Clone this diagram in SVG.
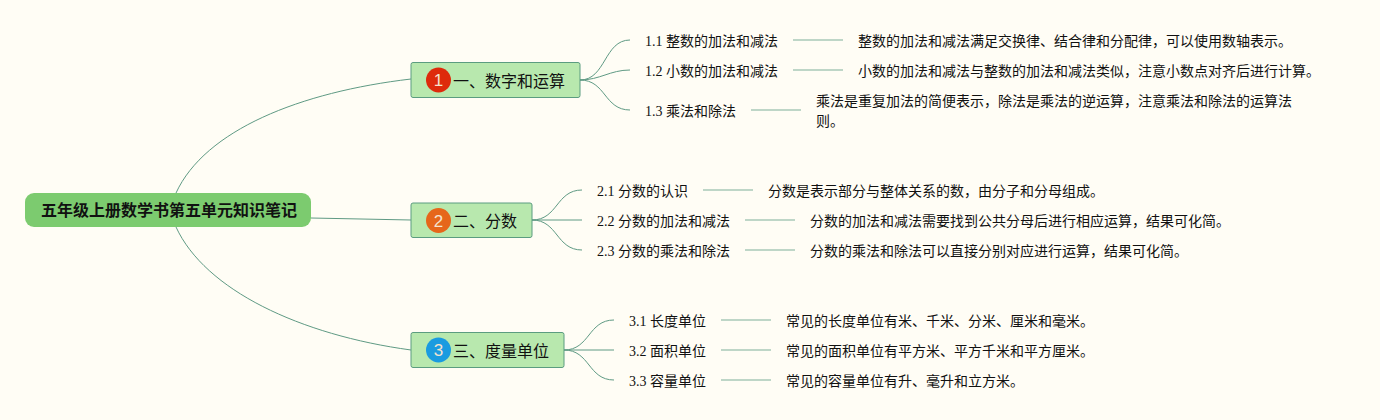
<svg xmlns="http://www.w3.org/2000/svg" width="1380" height="420" viewBox="0 0 1380 420">
<style>
text{font-family:"Liberation Serif","Noto Sans CJK SC",serif;fill:#111;}
.t{font-size:14px}
.b{font-size:16px}
.r{font-size:16px;font-weight:bold}
.n{font-size:17px;fill:#f4e3d0;font-family:"Liberation Sans",sans-serif;text-anchor:middle}
.c path{fill:none;stroke:#5f9a84;stroke-width:1}
.c line{stroke:#a9c9b7;stroke-width:1.500}
.bx{fill:#b8e8ae;stroke:#5b9c80;stroke-width:1}
</style>
<rect width="1380" height="420" fill="#fffdf5"/>
<g id="connectors" class="c">
<path d="M176 193C205 130 300 92 411 79"/>
<path d="M311 218L411 220"/>
<path d="M176 227C205 290 300 335 411 350"/>
<path d="M580 80C606 80 604 40 630 40"/>
<path d="M580 80C600 80 610 70 630 70"/>
<path d="M580 80C606 80 604 110 630 110"/>
<path d="M532 220C558 220 556 190 582 190"/>
<path d="M532 220L582 220"/>
<path d="M532 220C558 220 556 250 582 250"/>
<path d="M564 350C590 350 588 320 614 320"/>
<path d="M564 350L614 350"/>
<path d="M564 350C590 350 588 380 614 380"/>
<line x1="793" y1="40" x2="843" y2="40"/>
<line x1="793" y1="70" x2="843" y2="70"/>
<line x1="751" y1="110" x2="801" y2="110"/>
<line x1="703" y1="190" x2="753" y2="190"/>
<line x1="745" y1="220" x2="795" y2="220"/>
<line x1="745" y1="250" x2="795" y2="250"/>
<line x1="721" y1="320" x2="771" y2="320"/>
<line x1="721" y1="350" x2="771" y2="350"/>
<line x1="721" y1="380" x2="771" y2="380"/>
</g>
<g id="root"><rect x="25" y="193" width="286" height="34" rx="9" fill="#7ccb6f"/><text class="r" x="41" y="216">五年级上册数学书第五单元知识笔记</text></g>
<g id="n1"><rect class="bx" x="411" y="62.500" width="169" height="35" rx="2"/><circle cx="438.500" cy="80" r="12.500" fill="#de2a0c"/><text class="n" x="438.500" y="86">1</text><text class="b" x="453" y="87">一、数字和运算</text></g>
<g id="n2"><rect class="bx" x="411" y="203" width="121" height="34.500" rx="2"/><circle cx="438.500" cy="220.500" r="12.500" fill="#e6661a"/><text class="n" x="438.500" y="226.500">2</text><text class="b" x="453" y="227">二、分数</text></g>
<g id="n3"><rect class="bx" x="411" y="332.500" width="153" height="35" rx="2"/><circle cx="438.500" cy="350" r="12.500" fill="#1a9be0"/><text class="n" x="438.500" y="356">3</text><text class="b" x="453" y="357">三、度量单位</text></g>
<g id="n11"><text class="t" x="645" y="46">1.1 整数的加法和减法</text></g>
<g id="n11d"><text class="t" x="858" y="46">整数的加法和减法满足交换律、结合律和分配律，可以使用数轴表示。</text></g>
<g id="n12"><text class="t" x="645" y="76">1.2 小数的加法和减法</text></g>
<g id="n12d"><text class="t" x="858" y="76">小数的加法和减法与整数的加法和减法类似，注意小数点对齐后进行计算。</text></g>
<g id="n13"><text class="t" x="645" y="116">1.3 乘法和除法</text></g>
<g id="n13d"><text class="t" x="816" y="106">乘法是重复加法的简便表示，除法是乘法的逆运算，注意乘法和除法的运算法</text><text class="t" x="816" y="126">则。</text></g>
<g id="n21"><text class="t" x="597" y="196">2.1 分数的认识</text></g>
<g id="n21d"><text class="t" x="768" y="196">分数是表示部分与整体关系的数，由分子和分母组成。</text></g>
<g id="n22"><text class="t" x="597" y="226">2.2 分数的加法和减法</text></g>
<g id="n22d"><text class="t" x="810" y="226">分数的加法和减法需要找到公共分母后进行相应运算，结果可化简。</text></g>
<g id="n23"><text class="t" x="597" y="256">2.3 分数的乘法和除法</text></g>
<g id="n23d"><text class="t" x="810" y="256">分数的乘法和除法可以直接分别对应进行运算，结果可化简。</text></g>
<g id="n31"><text class="t" x="629" y="326">3.1 长度单位</text></g>
<g id="n31d"><text class="t" x="786" y="326">常见的长度单位有米、千米、分米、厘米和毫米。</text></g>
<g id="n32"><text class="t" x="629" y="356">3.2 面积单位</text></g>
<g id="n32d"><text class="t" x="786" y="356">常见的面积单位有平方米、平方千米和平方厘米。</text></g>
<g id="n33"><text class="t" x="629" y="386">3.3 容量单位</text></g>
<g id="n33d"><text class="t" x="786" y="386">常见的容量单位有升、毫升和立方米。</text></g>
</svg>
